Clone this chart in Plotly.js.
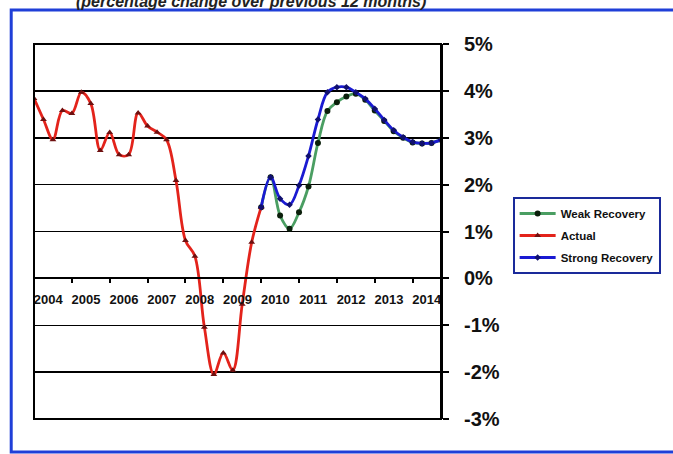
<!DOCTYPE html>
<html>
<head>
<meta charset="utf-8">
<script src="https://cdn.plot.ly/plotly-3.0.1.min.js"></script>
<style>html,body{margin:0;padding:0;background:#fff;}#chart{width:673px;height:454px;}</style>
</head>
<body>
<div id="chart"></div>
<script>
// Quarterly periods (decimal years)
const quarters = [
  2004.00, 2004.25, 2004.50, 2004.75,
  2005.00, 2005.25, 2005.50, 2005.75,
  2006.00, 2006.25, 2006.50, 2006.75,
  2007.00, 2007.25, 2007.50, 2007.75,
  2008.00, 2008.25, 2008.50, 2008.75,
  2009.00, 2009.25, 2009.50, 2009.75,
  2010.00, 2010.25, 2010.50, 2010.75,
  2011.00, 2011.25, 2011.50, 2011.75,
  2012.00, 2012.25, 2012.50, 2012.75,
  2013.00, 2013.25, 2013.50, 2013.75,
  2014.00, 2014.25, 2014.50, 2014.75
];
const actualX = quarters.slice(0, 25);
const actual = [3.84, 3.39, 2.96, 3.58, 3.52, 3.97, 3.73, 2.73, 3.11, 2.64, 2.64, 3.53,
                3.25, 3.12, 2.96, 2.09, 0.81, 0.47, -1.04, -2.05, -1.59, -1.96, -0.55, 0.77, 1.52];
const forecastX = quarters.slice(24);
const weakRecovery = [1.52, 2.16, 1.34, 1.06, 1.41, 1.96, 2.89, 3.57, 3.76, 3.88, 3.94, 3.81,
                      3.58, 3.36, 3.14, 3.00, 2.90, 2.88, 2.89, 2.96];
const strongRecovery = [1.52, 2.16, 1.70, 1.57, 1.98, 2.61, 3.39, 3.97, 4.08, 4.08, 3.97, 3.83,
                        3.62, 3.38, 3.16, 3.01, 2.91, 2.88, 2.89, 2.96];
const yearLabels = ['2004','2005','2006','2007','2008','2009','2010','2011','2012','2013','2014'];
const yTickVals = [-3, -2, -1, 0, 1, 2, 3, 4, 5];
const yTickText = ['-3%', '-2%', '-1%', '0%', '1%', '2%', '3%', '4%', '5%'];
const titleText = '(percentage change over previous 12 months)';

const F = 'Liberation Sans, Arial, Helvetica, sans-serif';

const traces = [
  {x: forecastX, y: weakRecovery, name: 'Weak Recovery', type: 'scatter', mode: 'lines+markers',
   legendgroup: 'a',
   line: {color: '#4a9e62', width: 2.8, shape: 'spline', smoothing: 1},
   marker: {symbol: 'circle', size: 6, color: '#0b1f0b'}},
  {x: actualX, y: actual, name: 'Actual', type: 'scatter', mode: 'lines+markers',
   legendgroup: 'b',
   line: {color: '#e3231b', width: 2.8, shape: 'spline', smoothing: 1},
   marker: {symbol: 'triangle-up', size: 6, color: '#6e1010'}},
  {x: forecastX, y: strongRecovery, name: 'Strong Recovery', type: 'scatter', mode: 'lines+markers',
   legendgroup: 'c',
   line: {color: '#1a1ad2', width: 2.8, shape: 'spline', smoothing: 1},
   marker: {symbol: 'diamond', size: 5, color: '#10106e'}}
];

const layout = {
  width: 673, height: 454,
  margin: {l: 34, r: 230, t: 44, b: 35, pad: 0},
  paper_bgcolor: '#ffffff', plot_bgcolor: '#ffffff',
  showlegend: true,
  legend: {x: 1.176, y: 0.592, xanchor: 'left', yanchor: 'top',
           bgcolor: '#ffffff', bordercolor: '#1a2a9a', borderwidth: 2,
           tracegroupgap: 3, itemwidth: 36,
           font: {family: F, size: 11.5, color: '#111', weight: 'bold'}},
  xaxis: {
    range: [2004, 2014.75], anchor: 'free', position: 0.375,
    showline: true, linecolor: '#000', linewidth: 2,
    showgrid: false, zeroline: false,
    tickmode: 'array',
    tickvals: yearLabels.map(y => Number(y) + 0.375),
    ticktext: yearLabels,
    ticks: '', ticklabelstandoff: 9,
    tickfont: {family: F, size: 13, color: '#111', weight: 'bold'},
    minor: {tickmode: 'array', tickvals: yearLabels.slice(1).map(Number),
            ticks: 'outside', ticklen: 4, tickwidth: 2, tickcolor: '#000', showgrid: false},
    fixedrange: true
  },
  yaxis: {
    range: [-3, 5], side: 'right',
    tickmode: 'array', tickvals: yTickVals, ticktext: yTickText,
    showgrid: true, gridcolor: '#000', gridwidth: 1.5,
    zeroline: false, showline: true, linecolor: '#000', linewidth: 2,
    ticks: 'outside', ticklen: 6, tickwidth: 2, tickcolor: '#000',
    ticklabelstandoff: 11,
    tickfont: {family: F, size: 20, color: '#111', weight: 'bold'},
    fixedrange: true
  },
  shapes: [
    {type: 'rect', xref: 'paper', yref: 'paper', x0: 0, x1: 1, y0: 0, y1: 1,
     line: {color: '#000', width: 2}, layer: 'above'},
    {type: 'rect', xref: 'paper', yref: 'paper', x0: -0.056, x1: 1.575, y0: -0.088, y1: 1.0907,
     line: {color: '#1f3fd8', width: 3}, layer: 'above'}
  ],
  annotations: [
    {text: titleText, xref: 'paper', yref: 'paper', x: 0.533, y: 1.112,
     xanchor: 'center', yanchor: 'middle', showarrow: false,
     font: {family: F, size: 16, color: '#222', weight: 'bold', style: 'italic'}}
  ]
};

Plotly.newPlot('chart', traces, layout, {displayModeBar: false, staticPlot: true});
</script>
</body>
</html>
